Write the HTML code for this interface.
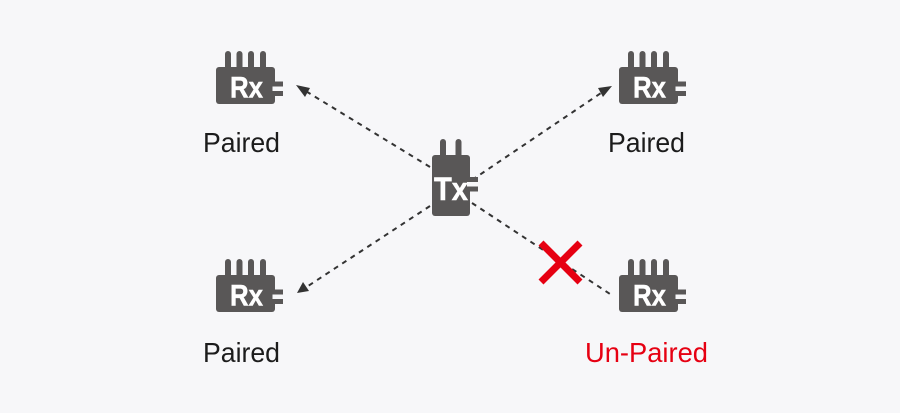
<!DOCTYPE html>
<html>
<head>
<meta charset="utf-8">
<style>
html,body{margin:0;padding:0;width:900px;height:413px;overflow:hidden;background:#f7f7f9}
svg{display:block;filter:blur(.35px)}
text{font-family:"Liberation Sans",sans-serif}
.lbl{font-size:28px;fill:#1c1c1c}
.ic{font-size:30px;font-weight:bold;fill:#fff;stroke:#fff;stroke-width:.5px}
</style>
</head>
<body>
<svg width="900" height="413" viewBox="0 0 900 413" xmlns="http://www.w3.org/2000/svg">
<defs>
<g id="rx">
<g fill="#595757">
<rect x="225" y="51" width="6" height="20" rx="3"/>
<rect x="236.5" y="51" width="6" height="20" rx="3"/>
<rect x="248" y="51" width="6" height="20" rx="3"/>
<rect x="260" y="51" width="6" height="20" rx="3"/>
<rect x="216" y="67" width="59" height="37" rx="3"/>
<rect x="274" y="81.5" width="9" height="5"/>
<rect x="274" y="91" width="9" height="5"/>
</g>
<rect x="272.5" y="86.5" width="3" height="4.5" fill="#f7f7f9"/>
<text class="ic" x="230" y="97.5" textLength="33" lengthAdjust="spacingAndGlyphs">Rx</text>
</g>
</defs>

<rect width="900" height="413" fill="#f7f7f9"/>

<g stroke="#333" stroke-width="2" stroke-dasharray="5 5" fill="none">
<line x1="430" y1="167" x2="304" y2="90"/>
<line x1="472" y1="180" x2="604" y2="91"/>
<line x1="430" y1="206" x2="305" y2="288"/>
<line x1="472" y1="203" x2="613" y2="296"/>
</g>
<g fill="#333">
<polygon points="296,85 310,88 305,97"/>
<polygon points="612,86 603,97 598,88"/>
<polygon points="297,293 303,282 309,291"/>
</g>

<use href="#rx"/>
<use href="#rx" x="403"/>
<use href="#rx" y="208"/>
<use href="#rx" x="403" y="208"/>

<g fill="#595757">
<rect x="440" y="139" width="6" height="20" rx="3"/>
<rect x="455.5" y="139" width="6" height="20" rx="3"/>
<rect x="432" y="155" width="38" height="61" rx="3"/>
<rect x="469" y="177" width="9" height="5"/>
<rect x="469" y="186.5" width="9" height="5"/>
</g>
<rect x="467" y="182" width="4" height="4.5" fill="#f7f7f9"/>
<text class="ic" x="434" y="200" textLength="34" lengthAdjust="spacingAndGlyphs" style="font-size:32px">Tx</text>

<g stroke="#e60012" stroke-width="7" fill="none">
<line x1="541" y1="243" x2="580" y2="282"/>
<line x1="580" y1="243" x2="541" y2="282"/>
</g>

<text class="lbl" x="203" y="152" textLength="77" lengthAdjust="spacingAndGlyphs">Paired</text>
<text class="lbl" x="608" y="152" textLength="77" lengthAdjust="spacingAndGlyphs">Paired</text>
<text class="lbl" x="203" y="362" textLength="77" lengthAdjust="spacingAndGlyphs">Paired</text>
<text class="lbl" x="585" y="362" textLength="123" lengthAdjust="spacingAndGlyphs" style="fill:#e60012">Un-Paired</text>
</svg>
</body>
</html>
